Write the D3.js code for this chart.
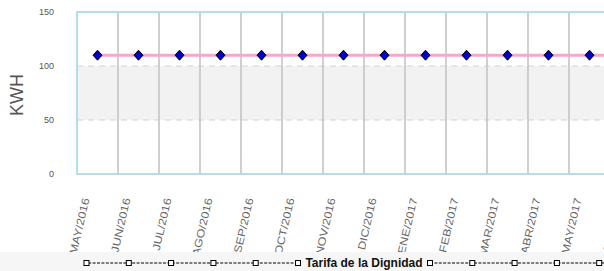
<!DOCTYPE html>
<html>
<head>
<meta charset="utf-8">
<script src="https://cdn.jsdelivr.net/npm/d3@7"></script>
<style>
  body { margin: 0; background: #fff; }
  svg { display: block; font-family: Arial, "Liberation Sans", sans-serif; }
</style>
</head>
<body>
<div id="plotarea"></div>
<script>
// chart values
var months = ['MAY/2016','JUN/2016','JUL/2016','AGO/2016','SEP/2016','OCT/2016','NOV/2016',
              'DIC/2016','ENE/2017','FEB/2017','MAR/2017','ABR/2017','MAY/2017','JUN/2017'];
var kwh = [110,110,110,110,110,110,110,110,110,110,110,110,110,110];
var yTicks = [0, 50, 100, 150];
var bandLow = 50, bandHigh = 100;
var seriesName = 'Tarifa de la Dignidad';

var W = 604, H = 271;
var pLeft = 77, pRight = 651, pTop = 12, pBottom = 174;

var svg = d3.select('#plotarea').append('svg')
  .attr('width', W).attr('height', H);

var x = d3.scaleBand().domain(months).range([pLeft, pRight]);
var y = d3.scaleLinear().domain([0, 150]).range([pBottom, pTop]);

// shaded reference band
svg.append('rect')
  .attr('x', pLeft).attr('width', pRight - pLeft)
  .attr('y', y(bandHigh)).attr('height', y(bandLow) - y(bandHigh))
  .attr('fill', '#f2f2f2');

svg.selectAll('line.dash')
  .data([bandLow, bandHigh])
  .enter().append('line')
  .attr('class', 'dash')
  .attr('x1', pLeft).attr('x2', pRight)
  .attr('y1', d => y(d)).attr('y2', d => y(d))
  .attr('stroke', '#d4d4d4')
  .attr('stroke-width', 1)
  .attr('stroke-dasharray', '6,5');

// vertical category grid
svg.selectAll('line.vgrid')
  .data(months.slice(1))
  .enter().append('line')
  .attr('class', 'vgrid')
  .attr('x1', d => x(d)).attr('x2', d => x(d))
  .attr('y1', pTop).attr('y2', pBottom)
  .attr('stroke', '#c4c4c4')
  .attr('stroke-width', 1.6);

// frame
svg.append('rect')
  .attr('x', pLeft).attr('y', pTop)
  .attr('width', pRight - pLeft).attr('height', pBottom - pTop)
  .attr('fill', 'none')
  .attr('stroke', '#addbea')
  .attr('stroke-width', 1.8);

// y ticks
svg.selectAll('text.ytick')
  .data(yTicks)
  .enter().append('text')
  .attr('class', 'ytick')
  .attr('x', 54).attr('y', d => y(d) + 3)
  .attr('text-anchor', 'end')
  .attr('font-size', 9)
  .attr('fill', '#555')
  .text(d => d);

svg.append('text')
  .attr('transform', 'translate(23,95) rotate(-90)')
  .attr('text-anchor', 'middle')
  .attr('font-size', 18)
  .attr('fill', '#555')
  .text('KWH');

// x labels, clipped by legend strip
svg.append('clipPath').attr('id', 'lblclip')
  .append('rect').attr('x', 0).attr('y', 180).attr('width', W).attr('height', 72);

svg.append('g').attr('clip-path', 'url(#lblclip)')
  .selectAll('text')
  .data(months)
  .enter().append('text')
  .attr('transform', d => 'translate(' + (x(d) + x.bandwidth() / 2 - 8) + ',199) rotate(-77) scale(1,0.85)')
  .attr('text-anchor', 'end')
  .attr('font-size', 12.5)
  .attr('fill', '#666')
  .text(d => d);

// series line + diamonds
var line = d3.line()
  .x((d, i) => x(months[i]) + x.bandwidth() / 2)
  .y(d => y(d));

svg.append('path')
  .datum(kwh)
  .attr('d', line)
  .attr('fill', 'none')
  .attr('stroke', '#f5a8c9')
  .attr('stroke-width', 3);

svg.selectAll('path.pt')
  .data(kwh)
  .enter().append('path')
  .attr('class', 'pt')
  .attr('d', 'M0,-5L4.5,0L0,5L-4.5,0Z')
  .attr('transform', (d, i) => 'translate(' + (x(months[i]) + x.bandwidth() / 2) + ',' + y(d) + ')')
  .attr('fill', '#0000cc')
  .attr('stroke', '#000')
  .attr('stroke-width', 1);

// legend strip
svg.append('rect')
  .attr('x', 0).attr('y', 252).attr('width', W).attr('height', H - 252)
  .attr('fill', '#f6f6f6');

var cx = (pLeft + pRight) / 2, ly = 263;
var lg = svg.append('g');
lg.append('text')
  .attr('x', cx).attr('y', ly + 4)
  .attr('text-anchor', 'middle')
  .attr('font-size', 12)
  .attr('font-weight', 'bold')
  .attr('fill', '#111')
  .text(seriesName);

var step = 42.3;
[-1, 1].forEach(function(side){
  var start = cx + side * 66;
  var sq = d3.range(6).map(k => start + side * k * step);
  lg.append('line')
    .attr('x1', sq[0]).attr('x2', sq[5])
    .attr('y1', ly).attr('y2', ly)
    .attr('stroke', '#000').attr('stroke-width', 1)
    .attr('stroke-dasharray', '3,1.4');
  lg.selectAll(null)
    .data(sq)
    .enter().append('rect')
    .attr('x', d => d - 2.5).attr('y', ly - 2.5)
    .attr('width', 5).attr('height', 5)
    .attr('fill', '#fff')
    .attr('stroke', '#000')
    .attr('stroke-width', 1);
});
</script>
</body>
</html>
